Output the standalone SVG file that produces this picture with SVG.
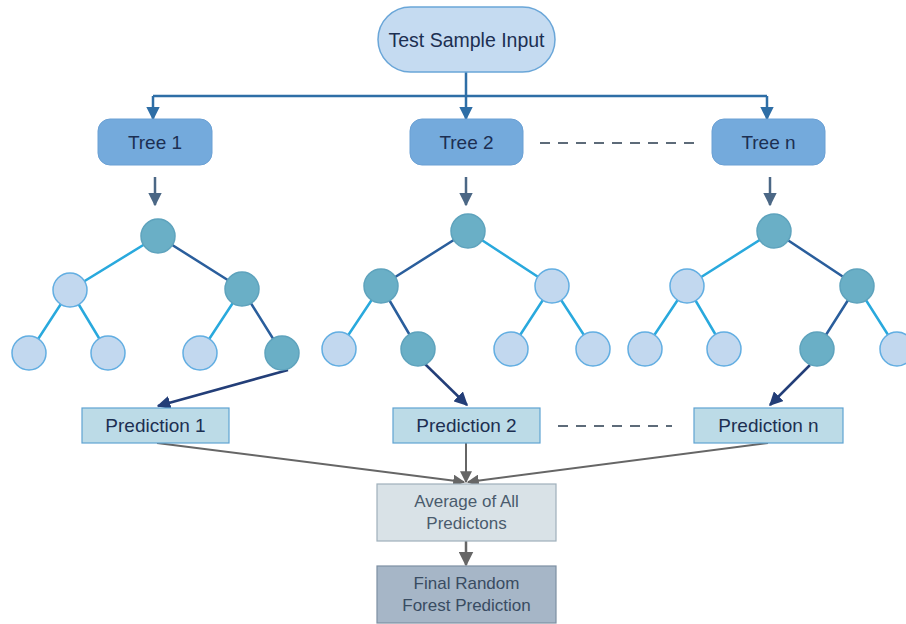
<svg xmlns="http://www.w3.org/2000/svg" width="906" height="624" viewBox="0 0 906 624">
<style>
text{font-family:"Liberation Sans",Arial,sans-serif;text-anchor:middle;dominant-baseline:central}
.start{fill:#c5dbf1;stroke:#6aa6d8;stroke-width:1.5}
.tree{fill:#74aadc;stroke:#6aa0d4;stroke-width:1}
.pred{fill:#bcdbe7;stroke:#5fa3d2;stroke-width:1.2}
.avg{fill:#d9e2e7;stroke:#9fb0bb;stroke-width:1.2}
.fin{fill:#a6b6c7;stroke:#7d8fa2;stroke-width:1.2}
.lt{fill:#c2d8ef;stroke:#62aee2;stroke-width:1.5}
.dk{fill:#6aafc6;stroke:#5ea3bd;stroke-width:1.5}
.el{stroke:#29a9dd;stroke-width:2.5}
.ed{stroke:#2a5e9c;stroke-width:2.5}
.t1{fill:#1c2f52;font-size:19.5px}
.t2{fill:#1c2f52;font-size:19px}
.t3{fill:#4a5b6d;font-size:17px}
.t4{fill:#394c62;font-size:17px}
</style>
<defs>
<marker id="ab" viewBox="0 0 10 10" refX="9" refY="5" markerWidth="5.5" markerHeight="5.5" orient="auto"><path d="M0,0 L10,5 L0,10 z" fill="#2e6ea6"/></marker>
<marker id="ag" viewBox="0 0 10 10" refX="9" refY="5" markerWidth="5.5" markerHeight="5.5" orient="auto"><path d="M0,0 L10,5 L0,10 z" fill="#4b6785"/></marker>
<marker id="an" viewBox="0 0 10 10" refX="9" refY="5" markerWidth="5.5" markerHeight="5.5" orient="auto"><path d="M0,0 L10,5 L0,10 z" fill="#233e78"/></marker>
<marker id="ay" viewBox="0 0 10 10" refX="9" refY="5" markerWidth="6" markerHeight="6" orient="auto"><path d="M0,0 L10,5 L0,10 z" fill="#666"/></marker>
</defs>

<g id="connectors" fill="none">
<path d="M466,72 V96 M153,96 H767" stroke="#2e6ea6" stroke-width="2.5"/>
<path d="M153,96 V119" stroke="#2e6ea6" stroke-width="2.5" marker-end="url(#ab)"/>
<path d="M466,96 V119" stroke="#2e6ea6" stroke-width="2.5" marker-end="url(#ab)"/>
<path d="M767,96 V119" stroke="#2e6ea6" stroke-width="2.5" marker-end="url(#ab)"/>
<path d="M540,143 H694" stroke="#5d6b79" stroke-width="2" stroke-dasharray="10,8"/>
<path d="M155,177 V205" stroke="#4b6785" stroke-width="2.5" marker-end="url(#ag)"/>
<path d="M466,177 V205" stroke="#4b6785" stroke-width="2.5" marker-end="url(#ag)"/>
<path d="M770,177 V205" stroke="#4b6785" stroke-width="2.5" marker-end="url(#ag)"/>
<path d="M288,370 L158,406" stroke="#233e78" stroke-width="2.5" marker-end="url(#an)"/>
<path d="M425,364 L467,405" stroke="#233e78" stroke-width="2.5" marker-end="url(#an)"/>
<path d="M810,365 L770,405" stroke="#233e78" stroke-width="2.5" marker-end="url(#an)"/>
<path d="M558,426 H672" stroke="#5d6b79" stroke-width="2" stroke-dasharray="10,8"/>
<path d="M157,443 L464,482" stroke="#666" stroke-width="2" marker-end="url(#ay)"/>
<path d="M466,443 V482" stroke="#666" stroke-width="2" marker-end="url(#ay)"/>
<path d="M768,443 L468,482" stroke="#666" stroke-width="2" marker-end="url(#ay)"/>
<path d="M466,541 V565" stroke="#666" stroke-width="2.5" marker-end="url(#ay)"/>
</g>

<g id="start"><rect class="start" x="378" y="7" width="177" height="65" rx="32.5"/><text class="t1" x="466.5" y="40">Test Sample Input</text></g>
<g id="tree1"><rect class="tree" x="98" y="119" width="114" height="46" rx="12"/><text class="t2" x="155" y="142">Tree 1</text></g>
<g id="tree2"><rect class="tree" x="410" y="119" width="113" height="46" rx="12"/><text class="t2" x="466.5" y="142">Tree 2</text></g>
<g id="treen"><rect class="tree" x="712" y="119" width="113" height="46" rx="12"/><text class="t2" x="768.5" y="142">Tree n</text></g>

<g id="diagram1">
<path class="el" d="M158,236 L70,290 M70,290 L29,353 M70,290 L108,353 M242,289 L200,353"/>
<path class="ed" d="M158,236 L242,289 M242,289 L282,353"/>
<circle class="dk" cx="158" cy="236" r="17"/>
<circle class="lt" cx="70" cy="290" r="17"/>
<circle class="dk" cx="242" cy="289" r="17"/>
<circle class="lt" cx="29" cy="353" r="17"/>
<circle class="lt" cx="108" cy="353" r="17"/>
<circle class="lt" cx="200" cy="353" r="17"/>
<circle class="dk" cx="282" cy="353" r="17"/>
</g>

<g id="diagram2">
<path class="el" d="M468,231 L552,286 M381,286 L339,349 M552,286 L511,349 M552,286 L593,349"/>
<path class="ed" d="M468,231 L381,286 M381,286 L418,349"/>
<circle class="dk" cx="468" cy="231" r="17"/>
<circle class="dk" cx="381" cy="286" r="17"/>
<circle class="lt" cx="552" cy="286" r="17"/>
<circle class="lt" cx="339" cy="349" r="17"/>
<circle class="dk" cx="418" cy="349" r="17"/>
<circle class="lt" cx="511" cy="349" r="17"/>
<circle class="lt" cx="593" cy="349" r="17"/>
</g>

<g id="diagramn">
<path class="el" d="M774,231 L687,286 M687,286 L645,349 M687,286 L724,349 M857,286 L897,349"/>
<path class="ed" d="M774,231 L857,286 M857,286 L817,349"/>
<circle class="dk" cx="774" cy="231" r="17"/>
<circle class="lt" cx="687" cy="286" r="17"/>
<circle class="dk" cx="857" cy="286" r="17"/>
<circle class="lt" cx="645" cy="349" r="17"/>
<circle class="lt" cx="724" cy="349" r="17"/>
<circle class="dk" cx="817" cy="349" r="17"/>
<circle class="lt" cx="897" cy="349" r="17"/>
</g>

<g id="pred1"><rect class="pred" x="82" y="408" width="147" height="35"/><text class="t2" x="155.5" y="425.5">Prediction 1</text></g>
<g id="pred2"><rect class="pred" x="393" y="408" width="147" height="35"/><text class="t2" x="466.5" y="425.5">Prediction 2</text></g>
<g id="predn"><rect class="pred" x="694" y="408" width="149" height="35"/><text class="t2" x="768.5" y="425.5">Prediction n</text></g>

<g id="average"><rect class="avg" x="377" y="484" width="179" height="57"/><text class="t3" x="466.5" y="501">Average of All</text><text class="t3" x="466.5" y="523">Predictons</text></g>
<g id="final"><rect class="fin" x="377" y="566" width="179" height="57"/><text class="t4" x="466.5" y="583">Final Random</text><text class="t4" x="466.5" y="605">Forest Prediction</text></g>
</svg>
